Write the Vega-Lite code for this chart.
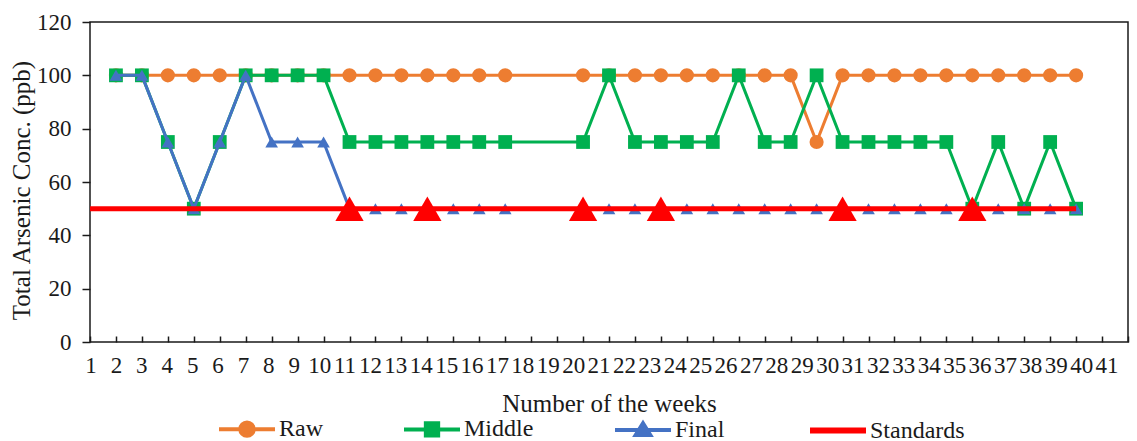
{
  "$schema": "https://vega.github.io/schema/vega-lite/v6.json",
  "autosize": "none",
  "width": 1038,
  "height": 320,
  "padding": {"left": 90, "top": 22, "right": 9, "bottom": 99},
  "background": "white",
  "config": {
    "view": {"stroke": "#1a1a1a", "strokeWidth": 1.5},
    "font": "Liberation Serif",
    "axis": {
      "grid": false,
      "domain": false,
      "labelFont": "Liberation Serif",
      "labelFontSize": 23,
      "labelColor": "#1a1a1a",
      "titleFont": "Liberation Serif",
      "titleFontSize": 25,
      "titleFontWeight": "normal",
      "titleColor": "#1a1a1a",
      "tickColor": "#1a1a1a",
      "tickWidth": 1.5
    },
    "legend": {
      "orient": "none",
      "legendX": 145,
      "legendY": 395,
      "direction": "horizontal",
      "columns": 4,
      "columnPadding": 73,
      "symbolSize": 3136,
      "symbolStrokeWidth": 4,
      "labelFont": "Liberation Serif",
      "labelFontSize": 24,
      "labelColor": "#1a1a1a",
      "labelOffset": 20
    }
  },
  "datasets": {
    "series": [
      {"week": 2, "series": "Raw", "value": 100}, {"week": 3, "series": "Raw", "value": 100},
      {"week": 4, "series": "Raw", "value": 100}, {"week": 5, "series": "Raw", "value": 100},
      {"week": 6, "series": "Raw", "value": 100}, {"week": 7, "series": "Raw", "value": 100},
      {"week": 8, "series": "Raw", "value": 100}, {"week": 9, "series": "Raw", "value": 100},
      {"week": 10, "series": "Raw", "value": 100}, {"week": 11, "series": "Raw", "value": 100},
      {"week": 12, "series": "Raw", "value": 100}, {"week": 13, "series": "Raw", "value": 100},
      {"week": 14, "series": "Raw", "value": 100}, {"week": 15, "series": "Raw", "value": 100},
      {"week": 16, "series": "Raw", "value": 100}, {"week": 17, "series": "Raw", "value": 100},
      {"week": 20, "series": "Raw", "value": 100}, {"week": 21, "series": "Raw", "value": 100},
      {"week": 22, "series": "Raw", "value": 100}, {"week": 23, "series": "Raw", "value": 100},
      {"week": 24, "series": "Raw", "value": 100}, {"week": 25, "series": "Raw", "value": 100},
      {"week": 26, "series": "Raw", "value": 100}, {"week": 27, "series": "Raw", "value": 100},
      {"week": 28, "series": "Raw", "value": 100}, {"week": 29, "series": "Raw", "value": 75},
      {"week": 30, "series": "Raw", "value": 100}, {"week": 31, "series": "Raw", "value": 100},
      {"week": 32, "series": "Raw", "value": 100}, {"week": 33, "series": "Raw", "value": 100},
      {"week": 34, "series": "Raw", "value": 100}, {"week": 35, "series": "Raw", "value": 100},
      {"week": 36, "series": "Raw", "value": 100}, {"week": 37, "series": "Raw", "value": 100},
      {"week": 38, "series": "Raw", "value": 100}, {"week": 39, "series": "Raw", "value": 100},

      {"week": 2, "series": "Middle", "value": 100}, {"week": 3, "series": "Middle", "value": 100},
      {"week": 4, "series": "Middle", "value": 75}, {"week": 5, "series": "Middle", "value": 50},
      {"week": 6, "series": "Middle", "value": 75}, {"week": 7, "series": "Middle", "value": 100},
      {"week": 8, "series": "Middle", "value": 100}, {"week": 9, "series": "Middle", "value": 100},
      {"week": 10, "series": "Middle", "value": 100}, {"week": 11, "series": "Middle", "value": 75},
      {"week": 12, "series": "Middle", "value": 75}, {"week": 13, "series": "Middle", "value": 75},
      {"week": 14, "series": "Middle", "value": 75}, {"week": 15, "series": "Middle", "value": 75},
      {"week": 16, "series": "Middle", "value": 75}, {"week": 17, "series": "Middle", "value": 75},
      {"week": 20, "series": "Middle", "value": 75}, {"week": 21, "series": "Middle", "value": 100},
      {"week": 22, "series": "Middle", "value": 75}, {"week": 23, "series": "Middle", "value": 75},
      {"week": 24, "series": "Middle", "value": 75}, {"week": 25, "series": "Middle", "value": 75},
      {"week": 26, "series": "Middle", "value": 100}, {"week": 27, "series": "Middle", "value": 75},
      {"week": 28, "series": "Middle", "value": 75}, {"week": 29, "series": "Middle", "value": 100},
      {"week": 30, "series": "Middle", "value": 75}, {"week": 31, "series": "Middle", "value": 75},
      {"week": 32, "series": "Middle", "value": 75}, {"week": 33, "series": "Middle", "value": 75},
      {"week": 34, "series": "Middle", "value": 75}, {"week": 35, "series": "Middle", "value": 50},
      {"week": 36, "series": "Middle", "value": 75}, {"week": 37, "series": "Middle", "value": 50},
      {"week": 38, "series": "Middle", "value": 75}, {"week": 39, "series": "Middle", "value": 50},

      {"week": 2, "series": "Final", "value": 100}, {"week": 3, "series": "Final", "value": 100},
      {"week": 4, "series": "Final", "value": 75}, {"week": 5, "series": "Final", "value": 50},
      {"week": 6, "series": "Final", "value": 75}, {"week": 7, "series": "Final", "value": 100},
      {"week": 8, "series": "Final", "value": 75}, {"week": 9, "series": "Final", "value": 75},
      {"week": 10, "series": "Final", "value": 75}, {"week": 11, "series": "Final", "value": 50},
      {"week": 12, "series": "Final", "value": 50}, {"week": 13, "series": "Final", "value": 50},
      {"week": 14, "series": "Final", "value": 50}, {"week": 15, "series": "Final", "value": 50},
      {"week": 16, "series": "Final", "value": 50}, {"week": 17, "series": "Final", "value": 50},
      {"week": 20, "series": "Final", "value": 50}, {"week": 21, "series": "Final", "value": 50},
      {"week": 22, "series": "Final", "value": 50}, {"week": 23, "series": "Final", "value": 50},
      {"week": 24, "series": "Final", "value": 50}, {"week": 25, "series": "Final", "value": 50},
      {"week": 26, "series": "Final", "value": 50}, {"week": 27, "series": "Final", "value": 50},
      {"week": 28, "series": "Final", "value": 50}, {"week": 29, "series": "Final", "value": 50},
      {"week": 30, "series": "Final", "value": 50}, {"week": 31, "series": "Final", "value": 50},
      {"week": 32, "series": "Final", "value": 50}, {"week": 33, "series": "Final", "value": 50},
      {"week": 34, "series": "Final", "value": 50}, {"week": 35, "series": "Final", "value": 50},
      {"week": 36, "series": "Final", "value": 50}, {"week": 37, "series": "Final", "value": 50},
      {"week": 38, "series": "Final", "value": 50}, {"week": 39, "series": "Final", "value": 50}
    ],
    "standardsLine": [
      {"week": 1, "series": "Standards", "value": 50},
      {"week": 39, "series": "Standards", "value": 50}
    ],
    "standardsPoints": [
      {"week": 11, "series": "Standards", "value": 50},
      {"week": 14, "series": "Standards", "value": 50},
      {"week": 20, "series": "Standards", "value": 50},
      {"week": 23, "series": "Standards", "value": 50},
      {"week": 30, "series": "Standards", "value": 50},
      {"week": 35, "series": "Standards", "value": 50}
    ]
  },
  "encoding": {
    "x": {
      "field": "week",
      "type": "quantitative",
      "scale": {"domain": [1, 41], "nice": false, "zero": false},
      "axis": {
        "title": "Number of the weeks",
        "values": [1,2,3,4,5,6,7,8,9,10,11,12,13,14,15,16,17,18,19,20,21,22,23,24,25,26,27,28,29,30,31,32,33,34,35,36,37,38,39,40,41],
        "tickSize": -6,
        "labelPadding": 18,
        "labelFlush": false,
        "labelOverlap": false,
        "titlePadding": 14,
        "labelOffset": {"expr": "-(datum.value - 2) * 0.55"}
      }
    },
    "y": {
      "field": "value",
      "type": "quantitative",
      "scale": {"domain": [0, 120], "nice": false},
      "axis": {
        "title": "Total Arsenic Conc. (ppb)",
        "values": [0, 20, 40, 60, 80, 100, 120],
        "tickSize": 8,
        "labelPadding": 11,
        "labelFlush": false,
        "titlePadding": 2,
        "titleY": 168
      }
    },
    "color": {
      "field": "series",
      "type": "nominal",
      "scale": {
        "domain": ["Raw", "Middle", "Final", "Standards"],
        "range": ["#ED7D31", "#00B050", "#4472C4", "#FF0000"]
      },
      "legend": {
        "title": null,
        "encode": {
          "symbols": {
            "update": {
              "shape": {"signal": "datum.value === 'Raw' ? 'M-1,0L1,0M-0.24,0A0.24,0.24 0 1,1 0.24,0A0.24,0.24 0 1,1 -0.24,0Z' : datum.value === 'Middle' ? 'M-1,0L1,0M-0.22,-0.22L0.22,-0.22L0.22,0.22L-0.22,0.22Z' : datum.value === 'Final' ? 'M-1,0L1,0M0,-0.24L0.26,0.18L-0.26,0.18Z' : 'M-1,0L1,0'"},
              "fill": {"signal": "scale('color', datum.value)"},
              "stroke": {"signal": "scale('color', datum.value)"},
              "strokeWidth": {"signal": "datum.value === 'Standards' ? 6 : 4"},
              "opacity": {"value": 1}
            }
          }
        }
      }
    }
  },
  "layer": [
    {
      "data": {"name": "series"},
      "transform": [{"filter": "datum.series === 'Raw'"}],
      "mark": {"type": "line", "strokeWidth": 3, "point": {"shape": "circle", "filled": true, "size": 200, "opacity": 1}}
    },
    {
      "data": {"name": "series"},
      "transform": [{"filter": "datum.series === 'Middle'"}],
      "mark": {"type": "line", "strokeWidth": 3, "point": {"shape": "square", "filled": true, "size": 190, "opacity": 1}}
    },
    {
      "data": {"name": "series"},
      "transform": [{"filter": "datum.series === 'Final'"}],
      "mark": {"type": "line", "strokeWidth": 3, "point": {"shape": "triangle-up", "filled": true, "size": 160, "opacity": 1}}
    },
    {
      "data": {"name": "standardsLine"},
      "mark": {"type": "line", "strokeWidth": 5}
    },
    {
      "data": {"name": "standardsPoints"},
      "mark": {"type": "point", "shape": "triangle-up", "filled": true, "size": 800, "opacity": 1}
    }
  ]
}
